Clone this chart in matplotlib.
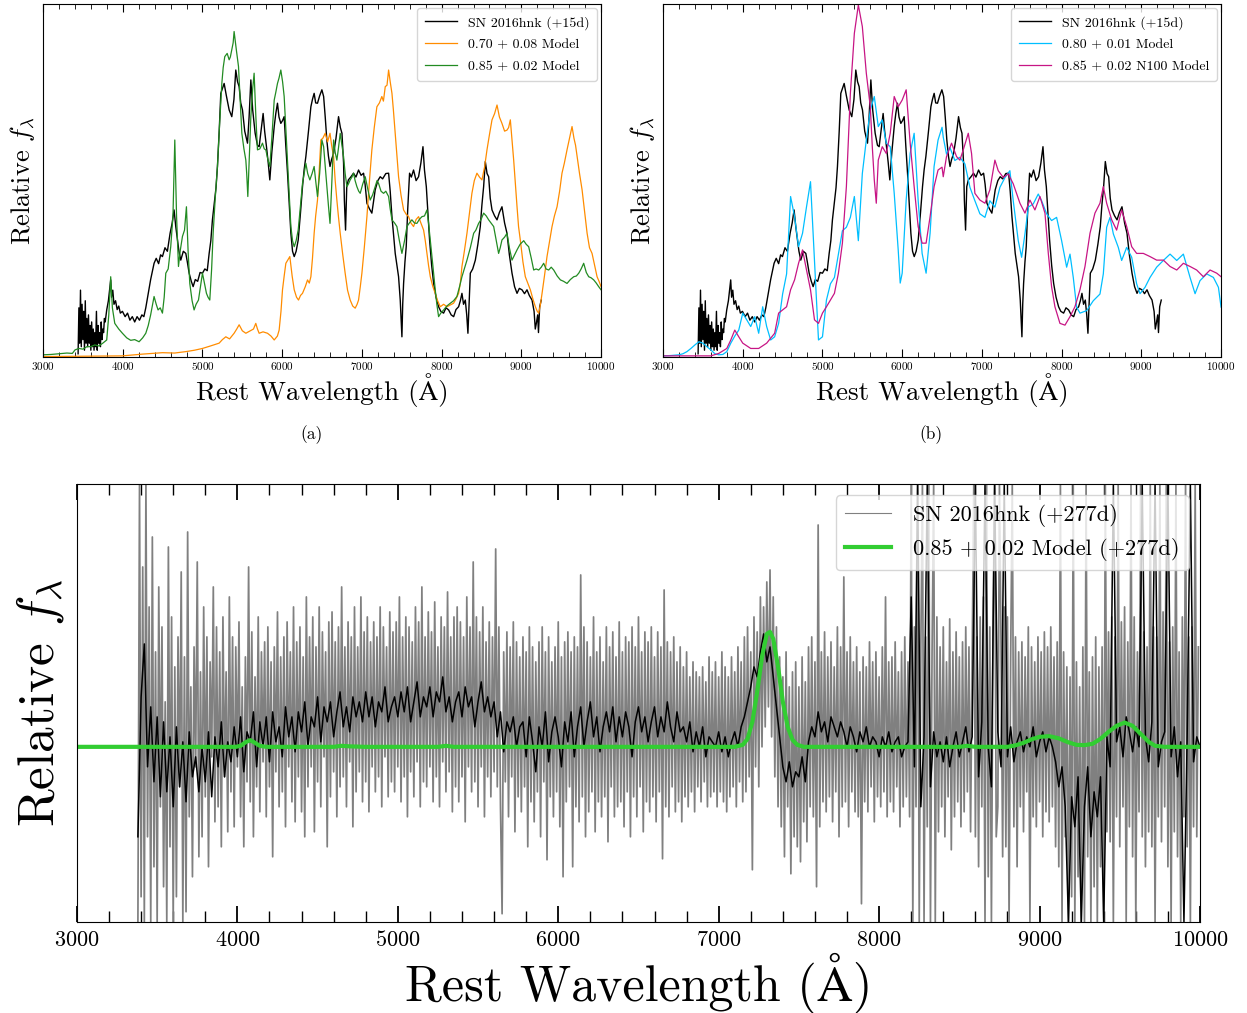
import matplotlib
matplotlib.use('Agg')
import matplotlib.pyplot as plt
import numpy as np
from matplotlib.ticker import MultipleLocator

# ---------------- data ----------------
# SN 2016hnk (+15d) observed spectrum: (wavelength [A], relative flux)
obs15 = [(3440,1.0),(3450,14),(3460,4),(3470,19),(3480,3),(3490,15),(3500,5),(3510,13),(3520,2),(3530,16),
 (3540,4),(3550,11),(3560,3),(3570,12),(3580,4),(3590,9),(3600,2),(3610,10),(3620,3),(3630,8),(3640,2),(3650,7),
 (3660,3),(3670,13),(3680,2),(3690,9),(3700,4),(3710,7),(3720,3),(3730,10),(3740,5),(3750,8),(3760,7),(3770,11),
 (3780,10),(3799,13.4),(3820,16),(3849,21.9),(3860,17),(3875,19),(3890,15),(3910,16),(3930,13.5),(3950,14.5),
 (3970,12.5),(3996,13),(4030,11.5),(4060,12.5),(4090,10.5),(4120,11.5),(4150,10),(4180,11.5),(4210,10.5),(4240,12),
 (4265,11.5),(4289,14),(4320,18),(4350,22),(4393,26.6),(4420,28),(4450,26.5),(4475,29),(4498,28.5),(4530,31),
 (4560,30),(4594,35.1),(4620,38),(4644,41.7),(4665,37),(4686,33.2),(4705,30),(4728,27.5),(4760,30),(4791,29.4),
 (4810,27),(4833,23.8),(4860,21.5),(4883,20),(4910,22),(4940,21.5),(4970,24),(5000,23.8),(5030,25),(5060,24.5),
 (5084,29.4),(5105,33),(5125,38.9),(5150,44),(5170,48),(5188,54),(5210,64),(5230,74.7),(5250,76),(5272,77.5),
 (5300,74),(5335,70),(5368,68.1),(5395,73),(5418,81.3),(5440,78),(5460,76.6),(5480,72),(5502,70),(5530,64),
 (5565,60.6),(5585,68),(5607,78.5),(5630,70),(5661,63.4),(5690,60),(5711,59.6),(5735,64),(5761,69),(5780,64),
 (5803,59.6),(5825,55),(5845,50.2),(5870,58),(5900,65.3),(5920,69),(5941,71.9),(5960,68),(5983,66.2),(6005,67),
 (6025,68.1),(6045,60),(6067,52.1),(6090,43),(6109,35.1),(6130,30),(6151,28.5),(6175,30),(6201,33.2),(6230,41),
 (6255,48.3),(6275,53),(6297,56.8),(6330,64),(6360,70.9),(6380,73),(6401,74.7),(6420,72),(6443,71.9),(6470,74),
 (6498,75.7),(6520,73.8),(6540,68),(6560,61.5),(6580,57),(6600,54),(6620,56),(6645,57.7),(6675,62),(6707,68.1),
 (6730,65),(6750,63.4),(6770,55),(6780,44.5),(6795,36),(6810,48.3),(6830,50.2),(6860,51),(6895,52.1),(6925,51),
 (6958,53),(6990,51.5),(7021,52.1),(7040,49),(7063,43.6),(7095,42),(7125,40.8),(7145,44),(7167,47.4),(7200,50),
 (7230,51.1),(7260,50.5),(7300,52),(7335,52.1),(7355,47),(7377,39.8),(7400,34),(7418,29.4),(7440,26),(7460,22.8),
 (7481,16.2),(7502,5.8),(7512,15),(7523,20.9),(7540,27),(7556,31.3),(7575,42),(7598,52.1),(7620,51),(7648,53),
 (7680,50),(7711,51.1),(7740,55),(7766,59.6),(7785,53),(7808,48.3),(7830,40),(7849,33.2),(7875,26),(7900,20.9),
 (7930,17),(7962,14.3),(7990,13),(8025,12.5),(8055,14),(8088,13.4),(8120,12),(8151,11.5),(8180,13.5),(8213,14.3),
 (8235,16),(8255,18.1),(8275,15),(8297,16.2),(8315,12),(8330,6.8),(8345,15),(8360,23.8),(8390,25),(8423,27.5),
 (8455,32),(8485,37),(8505,43),(8527,48.3),(8548,55.4),(8570,52),(8590,51.1),(8610,45),(8632,41.7),(8665,40),
 (8695,38.9),(8725,41),(8757,42.6),(8790,38),(8820,35.1),(8850,29),(8883,23.8),(8915,20),(8946,18.1),(8975,19.5),
 (9008,19.1),(9040,18),(9071,19.1),(9100,17.5),(9134,16.2),(9160,13),(9175,8),(9188,9.6),(9205,12),(9215,7),
 (9230,14.3),(9250,16.2)]

# 0.70 + 0.08 Model
model_070 = [(3000,0.2),(3500,0.3),(3996,0.4),(4250,0.9),(4498,1.3),(4650,1.2),(4791,1.6),(4900,2),(5000,2.5),
 (5100,3.2),(5209,4),(5250,5),(5293,5.8),(5340,5.2),(5397,6.8),(5430,8),(5460,9.2),(5500,7.5),(5544,6.8),(5600,7.5),
 (5640,8),(5669,9.6),(5690,8),(5711,6.8),(5760,7.2),(5816,6.8),(5860,6),(5900,4.9),(5940,6),(5962,7.7),(5985,13),
 (6004,19.1),(6025,23),(6046,26.6),(6070,27.5),(6096,28.5),(6125,23),(6151,19.1),(6180,17),(6205,16.2),(6230,17.5),
 (6255,18.1),(6290,20),(6318,21.9),(6340,21),(6360,22.8),(6380,28),(6401,35.1),(6420,40),(6443,44.5),(6465,53),
 (6485,61.5),(6510,62),(6540,63.4),(6570,61),(6600,63.4),(6620,60),(6645,56.8),(6665,50),(6686,44.5),(6705,40),
 (6728,35.1),(6760,29),(6790,23.8),(6820,19),(6853,16.2),(6885,14.5),(6916,13.9),(6940,15),(6958,16.2),(6980,20),
 (7000,23.8),(7030,31),(7063,39.8),(7095,50),(7125,58.7),(7155,65),(7188,70.9),(7220,72),(7250,73.8),(7270,72.5),
 (7293,76.6),(7315,77),(7335,81.3),(7355,78),(7377,74.7),(7395,70),(7418,63.4),(7440,57),(7460,51.1),(7490,46),
 (7523,41.7),(7555,40.5),(7586,39.8),(7615,38),(7648,37),(7680,39),(7711,39.8),(7740,38),(7774,36),(7795,33),
 (7816,29.4),(7836,26),(7858,22.8),(7890,20),(7920,18.1),(7950,16),(7983,14.3),(8025,15),(8067,14.3),(8110,14.8),
 (8150,15.3),(8180,16.5),(8213,18.1),(8235,21),(8255,25.7),(8285,30),(8318,35.1),(8350,41),(8380,46.4),(8410,50),
 (8443,52.1),(8475,51),(8506,50.2),(8540,54),(8569,58.7),(8600,63),(8632,67.2),(8665,69),(8695,71.4),(8725,68),
 (8757,66.2),(8790,64),(8820,64.3),(8840,65),(8862,67.2),(8885,61),(8904,55.8),(8925,49),(8946,42.6),(8965,37),
 (8987,33.2),(9020,27),(9050,22.8),(9080,21),(9113,19.1),(9145,16.5),(9176,14.3),(9200,13),(9218,12.5),(9240,15),
 (9260,18.1),(9290,23),(9322,28.5),(9355,33),(9385,37),(9415,40),(9448,42.6),(9480,47),(9510,52.1),(9540,55),
 (9573,58.7),(9605,62),(9636,65.3),(9660,62),(9680,60),(9700,56.8),(9730,52),(9762,47.4),(9795,41),(9825,35.1),
 (9855,31),(9887,29.4),(9920,26),(9950,22.8),(9975,21.5),(10000,20)]

# 0.85 + 0.02 Model
model_085 = [(3000,0.7),(3100,0.8),(3200,1.0),(3300,1.2),(3368,1.1),(3402,2.1),(3450,2.5),(3500,2.3),(3550,3),
 (3598,3),(3650,3.5),(3700,3.2),(3750,4),(3799,4.9),(3825,12),(3849,22.8),(3870,14),(3900,9.6),(3950,8),(3996,6.8),
 (4050,5.5),(4100,4.8),(4150,5),(4205,4.4),(4250,5.5),(4289,6.8),(4320,9),(4350,12),(4393,17.2),(4420,15),(4443,13.4),
 (4470,14),(4498,12.5),(4520,17),(4540,23.8),(4570,25),(4602,31.3),(4630,40),(4653,61.5),(4675,40),(4699,25.7),
 (4720,30),(4749,34.2),(4775,36),(4799,42.6),(4820,30),(4841,20.9),(4870,16),(4895,13.4),(4920,15),(4950,16.2),
 (4975,20),(5000,23.8),(5025,21),(5050,18.1),(5070,17),(5092,16.2),(5115,25),(5134,35.1),(5160,45),(5188,54),
 (5215,66),(5243,77.5),(5260,82),(5280,85.1),(5310,86),(5335,84.2),(5350,85),(5368,87),(5385,89),(5397,92.2),
 (5425,87),(5452,82.3),(5475,72),(5494,63.4),(5520,59),(5544,55.8),(5555,52),(5569,45.5),(5590,58),(5607,68.1),
 (5630,76),(5648,80.4),(5670,68),(5690,58.7),(5720,59),(5753,60.6),(5775,59),(5795,58.7),(5820,56),(5845,54),
 (5870,62),(5900,72.8),(5920,75),(5941,77.5),(5960,79),(5983,81.3),(6005,78),(6025,73.8),(6045,65),(6067,55.8),
 (6090,45),(6109,37),(6130,33),(6151,31.3),(6175,33),(6201,36),(6230,43),(6255,49.2),(6275,52),(6297,54.9),
 (6320,52),(6347,50.2),(6375,52),(6401,54),(6420,50),(6443,45.5),(6470,52),(6498,61.5),(6520,59.6),(6540,54),
 (6560,48.3),(6580,43),(6600,37.9),(6620,48),(6645,61.5),(6665,58),(6686,55.8),(6705,59),(6728,63.4),(6750,60),
 (6770,56.8),(6790,52),(6812,48.3),(6830,49),(6853,50.2),(6875,51),(6895,52.1),(6915,50),(6937,48.3),(6960,47),
 (6979,46.4),(7010,49),(7042,51.1),(7070,48),(7104,44.5),(7135,46),(7167,48.3),(7190,50),(7209,49.2),(7240,47),
 (7272,46.4),(7300,47),(7335,45.5),(7355,42),(7377,38.9),(7410,38),(7439,37),(7470,33),(7502,29.4),(7535,33),
 (7565,37),(7595,38),(7627,38.9),(7660,38),(7690,37.9),(7720,39),(7753,39.8),(7785,40),(7816,41.7),(7836,38),
 (7858,33.2),(7890,26),(7920,19.1),(7940,15),(7962,11.5),(7990,12.5),(8025,13.4),(8065,14.5),(8109,15.3),(8150,16),
 (8192,17.2),(8225,20),(8255,22.8),(8285,25),(8318,27.5),(8360,31),(8402,35.1),(8430,36),(8464,37.9),(8495,39),
 (8527,40.8),(8560,40),(8590,38.9),(8620,38),(8653,37),(8685,33),(8715,29.4),(8735,31),(8757,33.2),(8790,34),
 (8820,35.1),(8850,31),(8883,27.5),(8915,29),(8946,30.4),(8985,32),(9030,33),(9060,32),(9092,31.3),(9125,28),
 (9155,24.7),(9185,25),(9218,24.7),(9250,25.5),(9280,26.6),(9310,25),(9343,24.7),(9375,25.5),(9406,24.7),(9450,23),
 (9490,21.9),(9530,21.5),(9573,20.9),(9615,22),(9657,22.8),(9690,23),(9720,23.8),(9750,25),(9782,26.6),(9815,24),
 (9845,22.8),(9875,22.5),(9908,21.9),(9940,21),(9970,20),(10000,19.1)]

# 0.80 + 0.01 Model
model_080 = [(3000,0.4),(3100,0.5),(3200,0.7),(3250,1),(3300,1.6),(3350,2.5),(3400,3.5),(3450,4.4),(3500,4),
 (3550,3),(3600,2.1),(3650,1),(3700,0.7),(3750,0.8),(3800,1.6),(3850,4),(3900,6),(3950,7.7),(4000,12.5),(4050,10.6),
 (4100,8.7),(4150,11.5),(4200,6.8),(4250,14.3),(4300,8.7),(4350,4.9),(4400,5.8),(4450,9.6),(4500,17.9),(4550,23.6),
 (4600,45.5),(4650,39.8),(4700,31.3),(4750,35.1),(4800,42.6),(4850,49.7),(4900,27.5),(4950,4.9),(5000,5.8),
 (5050,16.2),(5100,20.8),(5150,22.6),(5200,29.2),(5250,35.8),(5300,36.8),(5350,39.6),(5400,45.5),(5450,33),
 (5500,52),(5550,61.5),(5600,70),(5650,73.8),(5700,65.3),(5750,67.2),(5800,60.6),(5850,59.6),(5900,46.4),
 (5950,30.4),(5975,21),(6000,23.8),(6050,44.5),(6100,57.7),(6150,63.4),(6200,44.5),(6250,29.4),(6300,23.8),
 (6350,35.1),(6400,54),(6450,61.5),(6500,65.1),(6515,62.3),(6556,57.5),(6598,59.4),(6661,55.7),(6724,56.6),
 (6787,54.7),(6850,48.1),(6912,44.3),(6975,40.6),(7038,39.6),(7100,44.3),(7163,42.5),(7226,48.1),(7290,50.9),
 (7351,52.8),(7393,44.3),(7456,33),(7498,28.3),(7540,34.9),(7582,42.5),(7644,43.4),(7707,46.2),(7749,44.3),
 (7812,40.6),(7874,38.7),(7937,39.6),(8000,33),(8063,25.5),(8105,29.2),(8146,22.6),(8188,14.2),(8230,12.5),
 (8314,13.2),(8397,16),(8481,17.9),(8523,23.6),(8565,36.8),(8607,39.6),(8649,34.9),(8711,31.1),(8753,27.4),
 (8816,31.1),(8879,28.3),(8941,20.8),(8983,18),(9046,19.8),(9109,22.6),(9192,25.5),(9276,27.4),(9360,29.2),
 (9444,27.4),(9527,29.2),(9611,22.6),(9674,18),(9736,21.7),(9820,23.6),(9904,22.6),(9967,19.8),(10000,14.2)]

# 0.85 + 0.02 N100 Model
model_n100 = [(3000,0.4),(3300,0.4),(3600,0.4),(3700,1.1),(3800,2.5),(3850,4.9),(3900,7.7),(3950,5.8),(4000,4),
 (4100,2.5),(4200,2.5),(4300,4),(4400,6.8),(4450,12.5),(4500,13.4),(4550,14.3),(4600,19.1),(4650,21.9),(4700,26.6),
 (4750,30.4),(4800,24.7),(4850,19.1),(4900,10.6),(4950,9.6),(5000,12.5),(5050,14.3),(5100,16.2),(5150,18.1),
 (5200,23.8),(5250,32.3),(5300,48.3),(5350,74.7),(5400,91.7),(5450,99.7),(5500,93.6),(5550,80.4),(5600,70.9),
 (5625,59.6),(5650,50.2),(5675,43.6),(5700,55.8),(5750,59.6),(5800,57.7),(5850,63.4),(5900,73.8),(5950,70.9),
 (6000,72.8),(6050,75.7),(6100,60.6),(6150,48.3),(6200,37),(6250,32.3),(6300,32.3),(6350,39.8),(6400,48.3),
 (6450,53),(6500,53.8),(6515,51.1),(6556,56.8),(6619,60.6),(6682,56.8),(6724,55.8),(6766,58.7),(6829,63.4),
 (6870,57.7),(6912,46.4),(6975,44.5),(7038,43.6),(7100,47.4),(7163,55.8),(7205,52.8),(7268,50.9),(7330,51.9),
 (7393,49.1),(7477,43.6),(7540,40.8),(7602,44.5),(7665,41.7),(7728,45.5),(7791,40.8),(7833,29.4),(7874,20),
 (7916,14.3),(7979,9.6),(8042,9.1),(8105,11.5),(8167,14.3),(8230,19.1),(8293,25.7),(8356,35.1),(8418,40.8),
 (8481,43.6),(8523,48.3),(8565,43.6),(8628,38.9),(8690,36),(8753,41.7),(8816,37),(8879,31.3),(8941,29.4),
 (9025,29.4),(9109,28.5),(9192,27.5),(9276,27.5),(9360,25.7),(9444,24.7),(9527,26.6),(9611,25.7),(9694,24.7),
 (9778,22.8),(9862,24.7),(9946,23.8),(10000,22.8)]

# SN 2016hnk (+277d): raw spectrum sampled every 10 A from 3380 A
raw277_start, raw277_step = 3380, 10
raw277 = [
 -175,263,-150,180,-175,263,-90,140,-175,210,
 -120,95,-175,160,-60,120,-140,45,-175,200,
 -100,130,-175,80,-150,110,-40,175,-175,90,
 -165,215,-70,60,-130,100,-20,185,-110,75,
 -90,140,-50,110,-120,85,-10,160,-75,120,
 -60,95,-100,130,-30,75,-85,150,-45,110,
 -80,100,-20,125,-70,60,-100,90,-35,180,
 -55,115,-90,70,-40,130,-65,95,-15,105,
 -70,120,-40,85,-110,100,-25,135,-60,90,
 -45,110,-80,125,-20,95,-55,140,-75,105,
 -30,120,-65,90,-90,150,-40,110,-20,130,
 -85,100,-35,140,-60,115,-10,95,-100,125,
 -50,135,-25,105,-70,120,-40,160,-30,100,
 -60,125,-15,110,-80,140,-45,100,-25,150,
 -55,115,-35,130,-65,105,-20,125,-45,110,
 -30,140,-60,120,-10,100,-50,135,-35,115,
 -45,125,-20,150,-55,110,-30,130,-70,120,
 -25,105,-50,140,-15,125,-60,160,-35,110,
 -40,135,-20,115,-55,145,-30,100,-60,130,
 -15,120,-45,155,-25,110,-65,130,-40,140,
 -55,125,-30,110,-75,150,-20,120,-45,185,
 -35,130,-60,115,-20,140,-70,105,-30,125,
 -50,110,-25,198,-40,120,-60,-167,95,-35,
 115,-70,100,-30,125,-85,105,-50,90,-65,
 110,-40,95,-100,120,-55,100,-75,85,-45,
 105,-90,120,-35,95,-113,110,-50,85,-70,
 100,-45,125,-80,90,-130,105,-55,115,-40,
 95,-120,110,-60,100,-75,172,-50,120,-90,
 105,-65,90,-45,130,-85,95,-55,110,-70,
 85,-50,120,-95,100,-40,115,-70,90,-60,
 125,-55,95,-80,110,-45,105,-90,120,-50,
 100,-70,130,-40,95,-85,115,-55,105,-65,
 120,-50,90,-75,115,-45,100,-112,157,-60,
 105,-70,95,-40,110,-65,85,-55,100,-75,
 80,-50,95,-60,70,-45,85,-65,75,-40,
 70,-55,80,-35,65,-60,90,-50,75,-45,
 85,-60,70,-45,95,-55,80,-65,70,-50,
 90,-40,75,-60,100,-35,85,-55,110,-45,
 120,-30,95,-123,130,-20,115,-40,150,0,
 140,20,165,40,177,10,150,-30,120,-60,
 90,-80,70,-110,95,-60,60,-127,75,-90,
 85,-100,60,-115,90,-75,65,-95,100,-60,
 110,-70,85,-140,222,-80,95,-55,115,-65,
 90,-50,105,-75,80,-45,120,-90,100,-60,
 170,-55,95,-80,110,-45,85,-65,100,-70,
 75,-157,90,-55,80,-65,105,-40,85,-75,
 95,-50,70,-60,100,-45,150,-70,85,-55,
 90,-65,105,-40,75,-80,95,-60,110,-50,
 85,-70,263,-175,120,-60,263,-175,100,263,
 -175,110,-80,263,-175,95,263,-175,130,-85,
 100,-60,120,-90,85,-50,128,-103,95,-70,
 115,-55,90,-80,105,-65,120,-45,100,-85,
 95,263,-90,110,-120,130,-60,150,-175,263,
 -130,120,-175,120,263,-90,-60,263,100,-110,
 140,-100,130,-175,90,263,-80,110,-120,95,
 -60,105,-85,90,-45,120,-175,100,-70,85,
 -80,110,-55,95,-90,115,-65,100,-75,120,
 -60,90,-100,105,-120,263,-175,95,-90,80,
 -175,70,-150,263,-175,85,-130,60,-175,100,
 -175,263,-110,75,-175,90,-140,110,-175,80,
 -120,100,-175,263,-85,115,-95,130,-175,110,
 -70,263,-100,125,-60,140,-175,105,-80,263,
 -110,130,-175,95,-65,263,-90,115,-120,100,
 -85,263,-100,120,-175,110,-70,263,-95,135,
 -60,263,-120,105,-175,120,-85,263,-110,95,
 -175,130,-70,263,-100,110,-175,120,-80,263,
 -90,100]

# SN 2016hnk (+277d): smoothed spectrum sampled every 20 A from 3380 A
smooth277_start, smooth277_step = 3380, 20
smooth277 = [
 -90,50,103,-20,40,-35,30,-50,25,-45,
 10,-60,20,-40,5,-55,15,-30,-10,-45,
 0,-35,15,-50,10,-20,25,-30,5,-15,
 20,-10,30,-25,15,5,35,-20,25,0,
 30,-15,35,5,20,-10,40,10,30,-5,
 35,15,45,0,30,20,50,5,40,25,
 45,10,35,55,20,40,15,50,30,45,
 25,55,30,50,20,45,35,60,25,40,
 50,30,55,35,60,25,45,65,30,50,
 40,60,30,55,45,70,35,50,25,45,
 55,30,60,40,50,20,45,65,35,50,
 30,45,10,35,-5,25,15,30,0,20,
 25,-10,30,5,-25,20,0,35,-15,15,
 30,10,-20,25,5,35,-10,20,40,0,
 25,45,10,30,-5,20,35,15,40,5,
 30,10,35,20,-10,25,40,15,30,5,
 25,40,10,30,15,45,20,5,35,15,
 20,5,25,-5,15,0,20,-10,10,5,
 0,15,-5,10,-10,5,15,0,20,30,
 45,60,80,70,95,113,85,100,70,40,
 10,-20,-35,-15,-40,-25,-30,-10,-35,5,
 20,10,35,15,25,5,30,20,10,25,
 15,0,20,10,-5,15,5,20,0,10,
 5,-10,10,0,15,-5,5,10,-10,0,
 5,150,-20,263,-60,10,263,-40,15,-10,
 5,-15,10,-20,0,15,-10,5,20,-5,
 10,263,-30,25,263,0,-40,263,15,-20,
 263,-10,20,-15,5,15,-5,10,0,20,
 -10,5,15,-5,10,0,-15,-40,-20,-60,
 -175,-50,-80,-30,-175,-60,-20,-90,-45,-70,
 -30,-175,10,-20,263,5,20,-10,30,15,
 -5,20,0,263,10,-15,25,263,-20,5,
 15,263,-10,20,-30,5,-175,10,263,-15,
 10,0]

# 0.85 + 0.02 Model (+277d)
model277 = [(3000,0),(3990,0),(4020,1),(4050,4.5),(4080,6.7),(4110,4),(4140,1),(4180,0),(4600,0),(4650,1),
 (4700,0.5),(4800,0),(5250,0),(5300,1),(5350,0),(7100,0),(7150,2),(7180,8),(7210,25),(7240,55),(7270,90),
 (7300,113),(7320,115),(7340,108),(7370,80),(7400,45),(7430,20),(7460,7),(7490,2),(7530,0),(8500,0),(8550,1),
 (8600,0),(8800,0),(8850,1.5),(8900,4),(8950,7.5),(9000,10),(9060,10.7),(9120,8.5),(9180,4.5),(9230,2),
 (9280,1.7),(9330,3),(9380,8),(9430,15),(9480,21),(9530,24.3),(9580,21),(9630,13),(9680,5),(9720,1),
 (9780,0),(10000,0)]

labels_a = ['SN 2016hnk (+15d)', '0.70 + 0.08 Model', '0.85 + 0.02 Model']
labels_b = ['SN 2016hnk (+15d)', '0.80 + 0.01 Model', '0.85 + 0.02 N100 Model']
labels_c = ['SN 2016hnk (+277d)', '0.85 + 0.02 Model (+277d)']

# ---------------- style ----------------
plt.rcParams['font.family'] = ['cmr10', 'STIXGeneral', 'DejaVu Sans']
plt.rcParams['mathtext.fontset'] = 'cm'
plt.rcParams['axes.unicode_minus'] = False
plt.rcParams['axes.formatter.use_mathtext'] = True

fig = plt.figure(figsize=(12.47, 10.13), dpi=100)
axa = fig.add_axes([0.0345, 0.6473, 0.4475, 0.3488])
axb = fig.add_axes([0.5317, 0.6473, 0.4475, 0.3488])
axc = fig.add_axes([0.0617, 0.0901, 0.9006, 0.4321])


def xy(pairs):
    a = np.array(pairs, dtype=float)
    return a[:, 0], a[:, 1]


def style_top(ax):
    ax.set_xlim(3000, 10000)
    ax.set_ylim(0, 100)
    ax.xaxis.set_major_locator(MultipleLocator(1000))
    ax.xaxis.set_minor_locator(MultipleLocator(200))
    ax.tick_params(axis='x', which='both', direction='in', top=True, bottom=True,
                   labelsize=8, pad=2)
    ax.tick_params(axis='x', which='major', length=6, width=0.8)
    ax.tick_params(axis='x', which='minor', length=3.6, width=0.6)
    ax.tick_params(axis='y', which='both', left=False, right=False, labelleft=False)
    ax.set_xlabel('Rest Wavelength (Å)', fontsize=19.5, labelpad=1)
    ax.set_ylabel(r'Relative $f_\lambda$', fontsize=19, labelpad=4)
    for s in ax.spines.values():
        s.set_linewidth(0.8)


top_legend_kw = dict(loc='upper right', fontsize=10, borderaxespad=0.3, borderpad=0.55,
                     labelspacing=0.65, handlelength=2.3, handletextpad=0.8)

# panel (a)
w, f = xy(obs15)
axa.plot(w, f, color='black', lw=1.0, label=labels_a[0])
w, f = xy(model_070)
axa.plot(w, f, color='darkorange', lw=0.9, label=labels_a[1])
w, f = xy(model_085)
axa.plot(w, f, color='forestgreen', lw=0.9, label=labels_a[2])
style_top(axa)
axa.legend(**top_legend_kw)

# panel (b)
w, f = xy(obs15)
axb.plot(w, f, color='black', lw=1.0, label=labels_b[0])
w, f = xy(model_080)
axb.plot(w, f, color='deepskyblue', lw=0.9, label=labels_b[1])
w, f = xy(model_n100)
axb.plot(w, f, color='mediumvioletred', lw=0.9, label=labels_b[2])
style_top(axb)
axb.legend(**top_legend_kw)

fig.text(312 / 1247, 1 - 435 / 1013, '(a)', ha='center', va='center', fontsize=12.5)
fig.text(931 / 1247, 1 - 435 / 1013, '(b)', ha='center', va='center', fontsize=12.5)

# bottom panel
raw_w = raw277_start + raw277_step * np.arange(len(raw277))
sm_w = smooth277_start + smooth277_step * np.arange(len(smooth277))
raw_line, = axc.plot(raw_w, raw277, color='gray', lw=1.25, label=labels_c[0])
axc.plot(sm_w, smooth277, color='black', lw=1.1)
w, f = xy(model277)
axc.plot(w, f, color='limegreen', lw=3.0, label=labels_c[1])
axc.set_xlim(3000, 10000)
axc.set_ylim(-175, 263)
axc.xaxis.set_major_locator(MultipleLocator(1000))
axc.xaxis.set_minor_locator(MultipleLocator(200))
axc.tick_params(axis='x', which='both', direction='in', top=True, bottom=True,
                labelsize=16, pad=6)
axc.tick_params(axis='x', which='major', length=11.5, width=1.3)
axc.tick_params(axis='x', which='minor', length=8, width=1.0)
axc.tick_params(axis='y', which='both', left=False, right=False, labelleft=False)
axc.set_xlabel('Rest Wavelength (Å)', fontsize=36, labelpad=2)
axc.set_ylabel(r'Relative $f_\lambda$', fontsize=37, labelpad=8)
leg = axc.legend(loc='upper right', fontsize=16, borderaxespad=0.5, handlelength=2.1,
                 handletextpad=1.0, labelspacing=0.5)
leg.get_lines()[0].set_linewidth(0.8)

fig.savefig('out.png', dpi=100)
